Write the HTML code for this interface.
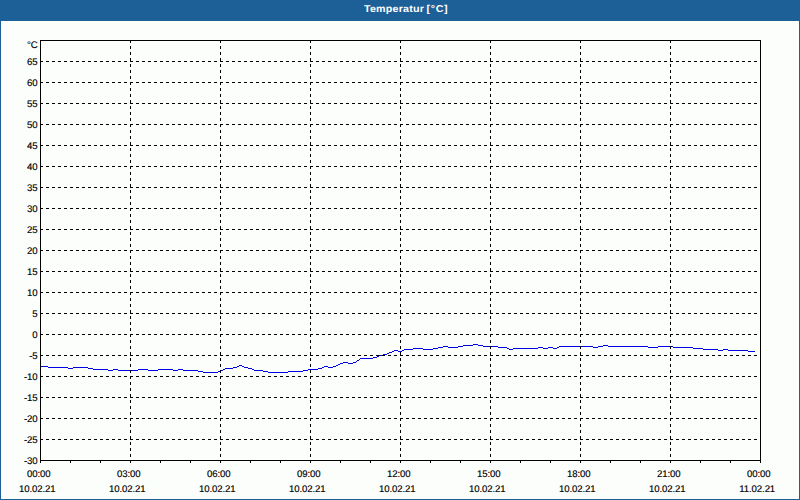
<!DOCTYPE html>
<html><head><meta charset="utf-8"><style>
html,body{margin:0;padding:0}
body{width:800px;height:500px;background:#1d6098;position:relative;overflow:hidden;font-family:"Liberation Sans",sans-serif;font-size:9.6px;text-rendering:geometricPrecision;color:#000;-webkit-text-stroke:0.15px #000}
#title{-webkit-text-stroke:0;position:absolute;left:0;top:0;width:800px;height:21px;line-height:17px;text-align:center;color:#fff;font-weight:bold;font-size:10px;white-space:pre}
#title span{position:absolute;left:363.8px;top:0.5px;letter-spacing:0.19px;word-spacing:-0.7px;transform:scaleX(1.07);transform-origin:0 0}
#pane{position:absolute;left:1px;top:21px;width:798px;height:478px;background:#fcfefc}
#frame{position:absolute;left:40px;top:40px;width:719px;height:419px;border:1px solid #000}
.h{position:absolute;left:40px;width:720px;height:1px;background:repeating-linear-gradient(to right,#000 0,#000 3px,transparent 3px,transparent 6px)}
.v{position:absolute;top:40px;height:420px;width:1px;background:repeating-linear-gradient(to bottom,#000 0,#000 3px,transparent 3px,transparent 6px)}
.t{position:absolute;top:461px;width:1px;height:2px;background:#000}
.yl{position:absolute;left:0;width:37.6px;text-align:right;height:12px;line-height:12px;letter-spacing:-0.1px;white-space:pre}
.xl{position:absolute;width:60px;text-align:center;height:12px;line-height:12px;letter-spacing:-0.1px;white-space:pre}
svg{position:absolute;left:0;top:0}
</style></head><body>
<div id="title"><span>Temperatur <b style="letter-spacing:0.6px">[°C]</b></span></div>
<div id="pane"></div>
<svg width="800" height="500" viewBox="0 0 800 500" shape-rendering="crispEdges"><path d="M41 366h7v1h-7zM48 367h20v1h-20zM68 368h5v1h-5zM73 367h15v1h-15zM88 368h5v1h-5zM93 369h15v1h-15zM108 370h5v1h-5zM113 369h5v1h-5zM118 370h20v1h-20zM138 369h10v1h-10zM148 370h10v1h-10zM158 369h15v1h-15zM173 370h5v1h-5zM178 369h5v1h-5zM183 370h15v1h-15zM198 371h5v1h-5zM203 372h15v1h-15zM218 371h2v1h-2zM220 370h3v1h-3zM223 369h2v1h-2zM225 368h8v1h-8zM233 367h4v1h-4zM237 366h2v1h-2zM239 365h3v1h-3zM242 366h2v1h-2zM244 367h4v1h-4zM248 368h4v1h-4zM252 369h2v1h-2zM254 370h9v1h-9zM263 371h5v1h-5zM268 372h20v1h-20zM288 371h15v1h-15zM303 370h5v1h-5zM308 369h10v1h-10zM318 368h4v1h-4zM322 367h2v1h-2zM324 366h4v1h-4zM328 367h5v1h-5zM333 366h3v1h-3zM336 365h2v1h-2zM338 364h2v1h-2zM340 363h3v1h-3zM343 362h5v1h-5zM348 363h5v1h-5zM353 362h3v1h-3zM356 361h1v1h-1zM357 360h2v1h-2zM359 359h1v1h-1zM360 358h13v1h-13zM373 357h4v1h-4zM377 356h2v1h-2zM379 355h4v1h-4zM383 354h4v1h-4zM387 353h2v1h-2zM389 352h3v1h-3zM392 351h2v1h-2zM394 350h4v1h-4zM398 351h4v1h-4zM402 350h2v1h-2zM404 349h9v1h-9zM413 348h10v1h-10zM423 349h10v1h-10zM433 348h5v1h-5zM438 347h5v1h-5zM443 346h5v1h-5zM448 347h10v1h-10zM458 346h5v1h-5zM463 345h10v1h-10zM473 344h5v1h-5zM478 345h5v1h-5zM483 346h15v1h-15zM498 347h9v1h-9zM507 348h2v1h-2zM509 349h4v1h-4zM513 348h25v1h-25zM538 347h5v1h-5zM543 348h5v1h-5zM548 347h5v1h-5zM553 348h4v1h-4zM557 347h2v1h-2zM559 346h34v1h-34zM593 347h5v1h-5zM598 346h5v1h-5zM603 345h5v1h-5zM608 346h40v1h-40zM648 347h10v1h-10zM658 346h15v1h-15zM673 347h20v1h-20zM693 348h10v1h-10zM703 349h15v1h-15zM718 350h5v1h-5zM723 349h5v1h-5zM728 350h20v1h-20zM748 351h7v1h-7z" fill="#0000e6"/></svg>
<div class="h" style="top:439px"></div><div class="h" style="top:418px"></div><div class="h" style="top:397px"></div><div class="h" style="top:376px"></div><div class="h" style="top:355px"></div><div class="h" style="top:334px"></div><div class="h" style="top:313px"></div><div class="h" style="top:292px"></div><div class="h" style="top:271px"></div><div class="h" style="top:250px"></div><div class="h" style="top:229px"></div><div class="h" style="top:208px"></div><div class="h" style="top:187px"></div><div class="h" style="top:166px"></div><div class="h" style="top:145px"></div><div class="h" style="top:124px"></div><div class="h" style="top:103px"></div><div class="h" style="top:82px"></div><div class="h" style="top:61px"></div><div class="v" style="left:130px"></div><div class="v" style="left:220px"></div><div class="v" style="left:310px"></div><div class="v" style="left:400px"></div><div class="v" style="left:490px"></div><div class="v" style="left:580px"></div><div class="v" style="left:670px"></div>
<div id="frame"></div>
<div class="t" style="left:40px"></div><div class="t" style="left:70px"></div><div class="t" style="left:100px"></div><div class="t" style="left:130px"></div><div class="t" style="left:160px"></div><div class="t" style="left:190px"></div><div class="t" style="left:220px"></div><div class="t" style="left:250px"></div><div class="t" style="left:280px"></div><div class="t" style="left:310px"></div><div class="t" style="left:340px"></div><div class="t" style="left:370px"></div><div class="t" style="left:400px"></div><div class="t" style="left:430px"></div><div class="t" style="left:460px"></div><div class="t" style="left:490px"></div><div class="t" style="left:520px"></div><div class="t" style="left:550px"></div><div class="t" style="left:580px"></div><div class="t" style="left:610px"></div><div class="t" style="left:640px"></div><div class="t" style="left:670px"></div><div class="t" style="left:700px"></div><div class="t" style="left:730px"></div><div class="t" style="left:760px"></div>
<div class="yl" style="top:456px">-30</div><div class="yl" style="top:435px">-25</div><div class="yl" style="top:414px">-20</div><div class="yl" style="top:393px">-15</div><div class="yl" style="top:372px">-10</div><div class="yl" style="top:351px">-5</div><div class="yl" style="top:330px">0</div><div class="yl" style="top:309px">5</div><div class="yl" style="top:288px">10</div><div class="yl" style="top:267px">15</div><div class="yl" style="top:246px">20</div><div class="yl" style="top:225px">25</div><div class="yl" style="top:204px">30</div><div class="yl" style="top:183px">35</div><div class="yl" style="top:162px">40</div><div class="yl" style="top:141px">45</div><div class="yl" style="top:120px">50</div><div class="yl" style="top:99px">55</div><div class="yl" style="top:78px">60</div><div class="yl" style="top:57px">65</div><div class="yl" style="top:40px">°C</div>
<div class="xl" style="left:8.8px;top:469px">00:00</div><div class="xl" style="left:7.2px;top:484px">10.02.21</div><div class="xl" style="left:98.8px;top:469px">03:00</div><div class="xl" style="left:97.2px;top:484px">10.02.21</div><div class="xl" style="left:188.8px;top:469px">06:00</div><div class="xl" style="left:187.2px;top:484px">10.02.21</div><div class="xl" style="left:278.8px;top:469px">09:00</div><div class="xl" style="left:277.2px;top:484px">10.02.21</div><div class="xl" style="left:368.8px;top:469px">12:00</div><div class="xl" style="left:367.2px;top:484px">10.02.21</div><div class="xl" style="left:458.8px;top:469px">15:00</div><div class="xl" style="left:457.2px;top:484px">10.02.21</div><div class="xl" style="left:548.8px;top:469px">18:00</div><div class="xl" style="left:547.2px;top:484px">10.02.21</div><div class="xl" style="left:638.8px;top:469px">21:00</div><div class="xl" style="left:637.2px;top:484px">10.02.21</div><div class="xl" style="left:728.8px;top:469px">00:00</div><div class="xl" style="left:727.2px;top:484px">11.02.21</div>
</body></html>
